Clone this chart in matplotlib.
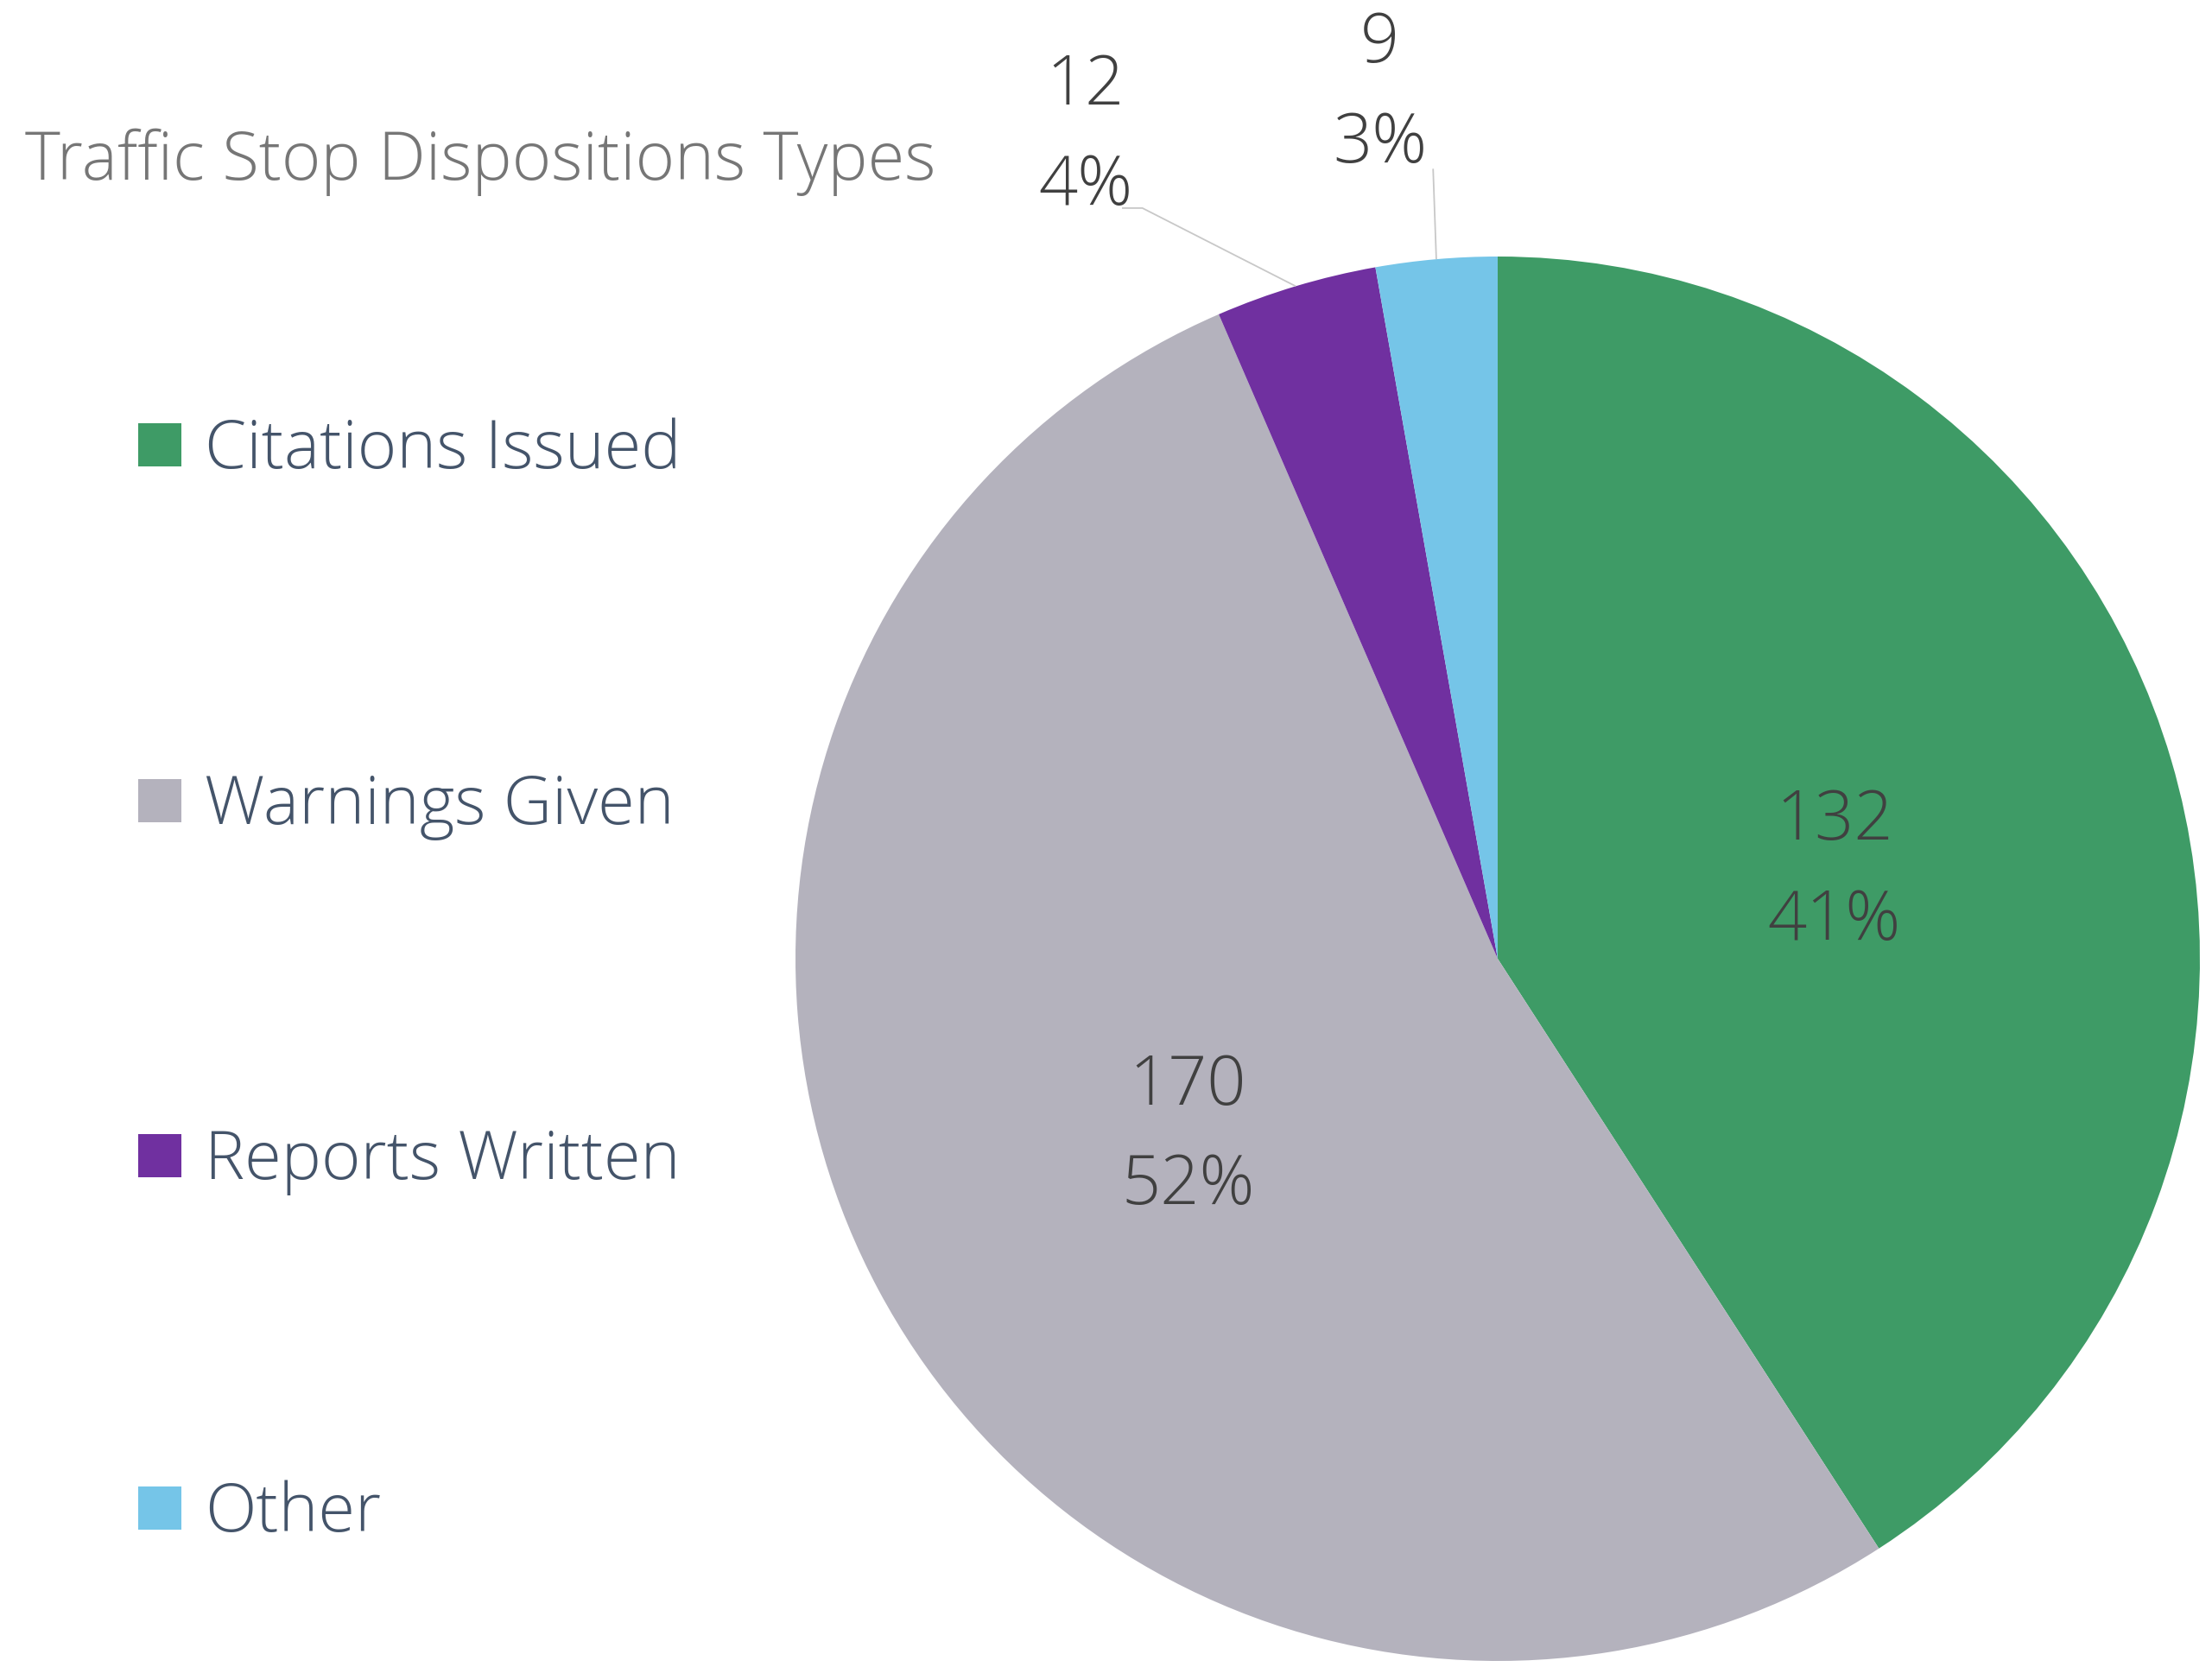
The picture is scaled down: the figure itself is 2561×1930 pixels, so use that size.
import numpy as np
import matplotlib.pyplot as plt

categories = ['Citations Issued', 'Warnings Given', 'Reports Written', 'Other']
counts = [132, 170, 12, 9]
pct_labels = ['41%', '52%', '4%', '3%']
colors = ['#3E9B66', '#B4B2BD', '#7030A0', '#75C5E8']

title = 'Traffic Stop Dispositions Types'

plt.rcParams['font.family'] = ['Open Sans', 'DejaVu Sans']
WEIGHT = 'light'

W, H = 2561, 1931
fig = plt.figure(figsize=(W / 100, H / 100), dpi=100)

# pie geometry in pixels
cx, cy, r = 1734, 1111, 813
pad = 1.02
ax = fig.add_axes([(cx - r * pad) / W, (H - cy - r * pad) / H, 2 * r * pad / W, 2 * r * pad / H])

wedges, _ = ax.pie(counts, colors=colors, startangle=90, counterclock=False,
                   radius=1, wedgeprops=dict(linewidth=0))
ax.set_xlim(-pad, pad)
ax.set_ylim(-pad, pad)
ax.set_aspect('equal')
ax.axis('off')

label_font = dict(fontsize=57, color='#404040', fontweight=WEIGHT, linespacing=1.6,
                  ha='center', va='center')

# big slices: labels inside
for i in [0, 1]:
    w = wedges[i]
    mid = np.deg2rad((w.theta1 + w.theta2) / 2)
    ax.text(0.5 * np.cos(mid), 0.5 * np.sin(mid) - 0.016, f'{counts[i]}\n{pct_labels[i]}',
            **label_font)

# small slices: labels outside with leader lines
outer_pos = {2: (-0.587, 1.172), 3: (-0.168, 1.232)}
leader_start = {2: [(-0.535, 1.069), (-0.506, 1.069)], 3: [(-0.092, 1.125)]}
for i in [2, 3]:
    w = wedges[i]
    mid = np.deg2rad((w.theta1 + w.theta2) / 2)
    ex, ey = np.cos(mid), np.sin(mid)
    tx, ty = outer_pos[i]
    ax.text(tx, ty, f'{counts[i]}\n{pct_labels[i]}', clip_on=False, **label_font)
    pts = leader_start[i] + [(ex, ey)]
    ax.plot([p[0] for p in pts], [p[1] for p in pts], color='#C8C8C8', lw=1.3,
            clip_on=False, solid_capstyle='butt')

# title
fig.text(29 / W, 1 - 188 / H, title, fontsize=56, color='#767676', fontweight=WEIGHT,
         ha='left', va='center')

# legend
leg_y = [516, 928, 1339, 1747]
for i, name in enumerate(categories):
    y = leg_y[i]
    fig.patches.append(plt.Rectangle((160 / W, 1 - (y + 25) / H), 50 / W, 50 / H,
                                     transform=fig.transFigure, color=colors[i], lw=0))
    fig.text(237 / W, 1 - (y + 6) / H, name, fontsize=56, color='#44546A', fontweight=WEIGHT,
             ha='left', va='center')

fig.savefig('out.png', dpi=100, facecolor='white')
